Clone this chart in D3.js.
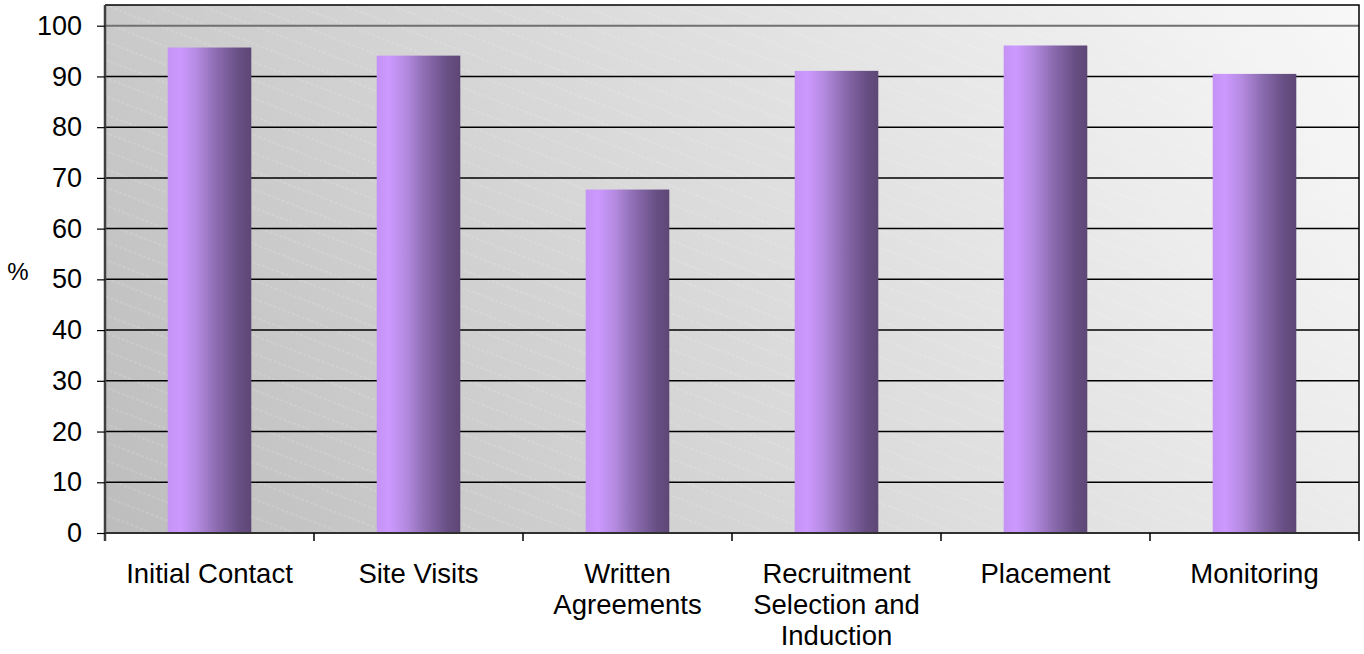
<!DOCTYPE html>
<html><head><meta charset="utf-8">
<script src="https://cdn.jsdelivr.net/npm/d3@7"></script>
<style>body{margin:0;background:#fff;font-family:"Liberation Sans",Arial,sans-serif}</style>
</head><body><svg id="c" width="1364" height="654"></svg>
<script>
const categories = ["Initial Contact","Site Visits","Written Agreements","Recruitment Selection and Induction","Placement","Monitoring"];
const labelLines = [["Initial Contact"],["Site Visits"],["Written","Agreements"],["Recruitment","Selection and","Induction"],["Placement"],["Monitoring"]];
const values = [95.7, 94.1, 67.7, 91.1, 96.1, 90.5];
const yTicks = [0,10,20,30,40,50,60,70,80,90,100];

const svg = d3.select("#c");
const L = 105, R = 1359, T = 5, B = 533;
const x = d3.scaleBand().domain(categories).range([L, R]).paddingInner(0.6).paddingOuter(0.3);
const xc = d3.scaleBand().domain(categories).range([L, R]);
const y = d3.scaleLinear().domain([0,100]).range([B, 25.7]);
const FONT = "Liberation Sans, Arial, sans-serif";

const defs = svg.append("defs");
const bg = defs.append("linearGradient").attr("id","bg").attr("gradientUnits","userSpaceOnUse")
  .attr("x1",L).attr("y1",B).attr("x2",R).attr("y2",T-300);
bg.append("stop").attr("offset","0").attr("stop-color","#bdbdbd");
bg.append("stop").attr("offset","0.55").attr("stop-color","#e2e2e2");
bg.append("stop").attr("offset","1").attr("stop-color","#ffffff");

const pat = defs.append("pattern").attr("id","hatch").attr("patternUnits","userSpaceOnUse")
  .attr("width",400).attr("height",17).attr("patternTransform","rotate(21)");
pat.append("line").attr("x1",0).attr("y1",1).attr("x2",400).attr("y2",1)
  .attr("stroke","#ffffff").attr("stroke-opacity",0.25).attr("stroke-width",1).attr("stroke-dasharray","3,2");

const bar = defs.append("linearGradient").attr("id","bar").attr("x1","0").attr("x2","1").attr("y1","0").attr("y2","0");
[[0,"#c592f5"],[0.15,"#cc99ff"],[0.35,"#b48ae0"],[0.6,"#8a6aae"],[0.85,"#674f84"],[1,"#5e4776"]]
  .forEach(([o,c]) => bar.append("stop").attr("offset",o).attr("stop-color",c));

svg.append("rect").attr("x",L).attr("y",T).attr("width",R-L).attr("height",B-T).attr("fill","url(#bg)");
svg.append("rect").attr("x",L).attr("y",T).attr("width",R-L).attr("height",B-T).attr("fill","url(#hatch)");

// gridlines
svg.append("g").selectAll("line").data(yTicks.filter(d=>d>0)).join("line")
  .attr("x1",L).attr("x2",R).attr("y1",d=>y(d)).attr("y2",d=>y(d))
  .attr("stroke",d=>d===100?"#707070":"#000").attr("stroke-width",d=>d===100?2:1.5);

// bars
svg.append("g").selectAll("rect").data(values).join("rect")
  .attr("x",(d,i)=>x(categories[i])).attr("width",x.bandwidth())
  .attr("y",d=>y(d)).attr("height",d=>y(0)-y(d)).attr("fill","url(#bar)");

// frame top/right
svg.append("path").attr("d",`M${L},${T}H${R}V${B}`).attr("fill","none").attr("stroke","#000").attr("stroke-width",1.5);

// y axis
const ya = svg.append("g").attr("transform",`translate(${L},0)`)
  .call(d3.axisLeft(y).tickValues(yTicks).tickSize(8).tickPadding(15));
ya.select(".domain").attr("d",`M0,${T}V${B+8}`).attr("stroke","#404040").attr("stroke-width",2.5);
ya.selectAll(".tick line").attr("stroke","#000").attr("stroke-width",1.2);
ya.selectAll(".tick text").attr("font-size",27).attr("fill","#000").attr("font-family",FONT);

// x axis baseline
svg.append("line").attr("x1",L).attr("x2",R).attr("y1",B).attr("y2",B).attr("stroke","#303030").attr("stroke-width",2);
// x ticks between categories
svg.append("g").selectAll("line").data(categories.slice(1).concat([null])).join("line")
  .attr("x1",(d,i)=>i<5?xc(d):R).attr("x2",(d,i)=>i<5?xc(d):R)
  .attr("y1",B).attr("y2",B+8).attr("stroke","#000").attr("stroke-width",1.5);

// x labels
const xl = svg.append("g").selectAll("text").data(categories).join("text")
  .attr("x",d=>xc(d)+xc.bandwidth()/2).attr("y",583)
  .attr("text-anchor","middle").attr("font-size",27.5).attr("font-family",FONT).attr("fill","#000");
xl.each(function(d,i){
  d3.select(this).selectAll("tspan").data(labelLines[i]).join("tspan")
    .attr("x",xc(d)+xc.bandwidth()/2).attr("dy",(t,j)=>j===0?0:31).text(t=>t);
});

svg.append("text").attr("x",18).attr("y",280).attr("text-anchor","middle").attr("font-size",24).attr("font-family",FONT).text("%");
</script></body></html>
